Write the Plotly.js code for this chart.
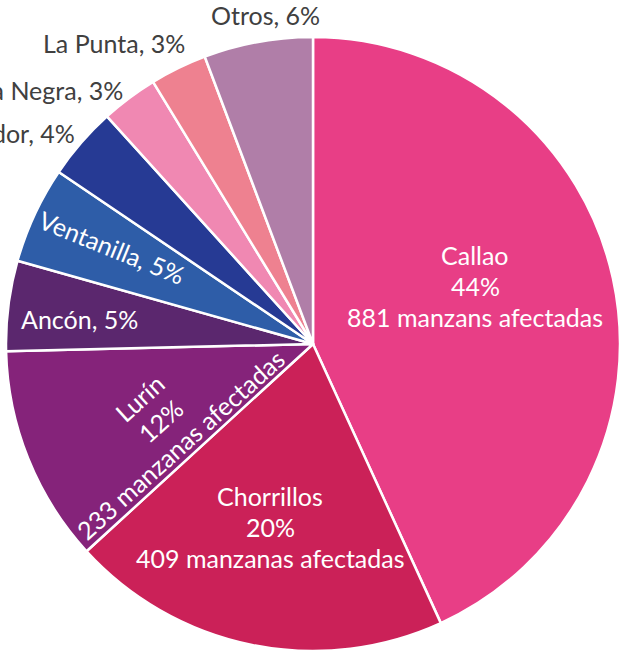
<!DOCTYPE html>
<html><head><meta charset="utf-8">
<script src="https://cdn.plot.ly/plotly-3.0.1.min.js"></script>
<style>html,body{margin:0;padding:0;background:#fff;overflow:hidden}</style>
</head><body><div id="chart" style="width:621px;height:652px"></div>
<script>
// ---- data ----
const districts = ['Callao','Chorrillos','Lurín','Ancón','Ventanilla','Villa El Salvador','Punta Negra','La Punta','Otros'];
const manzanas  = [881, 409, 233, 97, 104, 78, 61, 61, 117];
const pctLabels = ['44%','20%','12%','5%','5%','4%','3%','3%','6%'];
const countText = ['881 manzans afectadas','409 manzanas afectadas','233 manzanas afectadas'];
const sliceColors = ['#E83E86','#CB2158','#85237A','#5B276E','#2E5DA8','#263A94','#F088B2','#EE8190','#B07EA8'];

// ---- layout helpers (label placement, px) ----
const W = 621, H = 652;
const FONT = 'Lato, "Open Sans", sans-serif';
const FS = 25, LINE = 31;
// [index, centre x, centre y, angle, inside?, multiLine?, anchor]
const labelPlace = [
  [0, 475, 286, 0,   true,  true,  'center'],
  [1, 270, 527, 0,   true,  true,  'center'],
  [2, 160, 421, -42, true,  true,  'center'],
  [3, 79,  319, 0,   true,  false, 'center'],
  [4, 112, 247, 22,  true,  false, 'center'],
  [5, 77,  133, 0,   false, false, 'right'],
  [6, 125, 90,  0,   false, false, 'right'],
  [7, 187, 43,  0,   false, false, 'right'],
  [8, 322, 15,  0,   false, false, 'right']
];

const annotations = [];
labelPlace.forEach(([i, cx, cy, ang, inside, multi, anchor]) => {
  const lines = multi ? [districts[i], pctLabels[i], countText[i]] : [districts[i] + ', ' + pctLabels[i]];
  const th = ang * Math.PI / 180;
  const px = -Math.sin(th), py = Math.cos(th);
  const n = lines.length;
  lines.forEach((t, k) => {
    const off = (k - (n - 1) / 2) * LINE;
    const x = cx + px * off, y = cy + py * off;
    annotations.push({
      xref: 'paper', yref: 'paper', x: x / W, y: 1 - y / H,
      xanchor: anchor, yanchor: 'middle', showarrow: false,
      text: t, textangle: ang,
      font: {family: FONT, size: FS, color: inside ? '#FFFFFF' : '#404040'}
    });
  });
});

const trace = {
  type: 'pie',
  labels: districts,
  values: manzanas,
  sort: false,
  direction: 'clockwise',
  rotation: 0,
  marker: {colors: sliceColors, line: {color: '#FFFFFF', width: 2.5}},
  textinfo: 'none',
  hoverinfo: 'label+value',
  domain: {x: [6 / W, 620 / W], y: [1 / H, 615 / H]}
};

const layout = {
  width: W, height: H,
  margin: {l: 0, r: 0, t: 0, b: 0, pad: 0},
  showlegend: false,
  paper_bgcolor: '#FFFFFF',
  annotations: annotations
};

Plotly.newPlot('chart', [trace], layout, {displayModeBar: false, staticPlot: true});
</script>
</body></html>
